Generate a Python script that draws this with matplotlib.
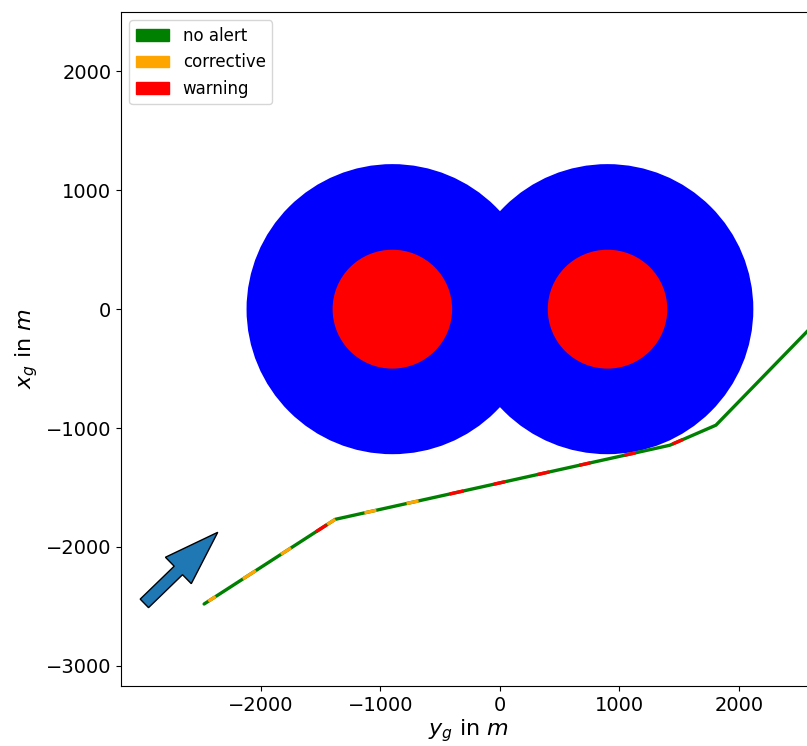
import numpy as np
import matplotlib
matplotlib.use("Agg")
import matplotlib.pyplot as plt
from matplotlib.patches import Circle, Patch

# Trajectory waypoints (y_g on horizontal axis, x_g on vertical axis)
path_yg = [-2475, -1378, 1420, 1807, 2800]
path_xg = [-2480, -1768, -1145, -976, 50]

# Alert intervals along the path, given as y_g ranges
corrective_start = [-2440, -2151, -1832, -1445, -1134, -781]
corrective_end = [-2378, -2042, -1748, -1378, -1034, -681]
warning_start = [-1538, -420, -50, 311, 664, 1042, 1445]
warning_end = [-1450, -303, 42, 412, 756, 1134, 1529]

# Obstacle circles
circle_centers_yg = [-900, 900]
circle_centers_xg = [0, 0]
outer_radius = 1220
inner_radius = 500

# Direction arrow
arrow_tail = (-2975, -2475)
arrow_tip = (-2361, -1877)

fig = plt.figure(figsize=(8.07, 7.46), dpi=100)
ax = fig.add_axes([0.150, 0.0804, 0.862, 0.9036])

for cy, cx in zip(circle_centers_yg, circle_centers_xg):
    ax.add_patch(Circle((cy, cx), outer_radius, color='blue', zorder=1, lw=0))
    ax.add_patch(Circle((cy, cx), inner_radius, color='red', zorder=1.5, lw=0))

py = np.array(path_yg, float)
px = np.array(path_xg, float)
LW = 2.4
ax.plot(py, px, color='green', lw=LW, zorder=3, solid_capstyle='round')


def piece(a, b):
    inner = py[(py > a) & (py < b)]
    ys = np.concatenate([[a], inner, [b]])
    xs = np.interp(ys, py, px)
    return ys, xs


for a, b in zip(corrective_start, corrective_end):
    ys, xs = piece(a, b)
    ax.plot(ys, xs, color='orange', lw=LW, zorder=4, solid_capstyle='butt')
for a, b in zip(warning_start, warning_end):
    ys, xs = piece(a, b)
    ax.plot(ys, xs, color='red', lw=LW, zorder=4, solid_capstyle='butt')

ax.arrow(arrow_tail[0], arrow_tail[1], arrow_tip[0] - arrow_tail[0], arrow_tip[1] - arrow_tail[1],
         width=100, head_width=310, head_length=460, length_includes_head=True,
         fc='#1f77b4', ec='black', lw=1, zorder=5)

ax.set_xlim(-3170, 2650)
ax.set_ylim(-3170, 2500)
ax.set_xticks([-2000, -1000, 0, 1000, 2000])
ax.set_yticks([-3000, -2000, -1000, 0, 1000, 2000])
ax.tick_params(labelsize=14)
ax.set_xlabel('$y_g$ in $m$', fontsize=16, labelpad=2)
ax.set_ylabel('$x_g$ in $m$', fontsize=16)

handles = [Patch(color='green', label='no alert'),
           Patch(color='orange', label='corrective'),
           Patch(color='red', label='warning')]
ax.legend(handles=handles, loc='upper left', fontsize=12)

fig.savefig('out.png', dpi=100)
